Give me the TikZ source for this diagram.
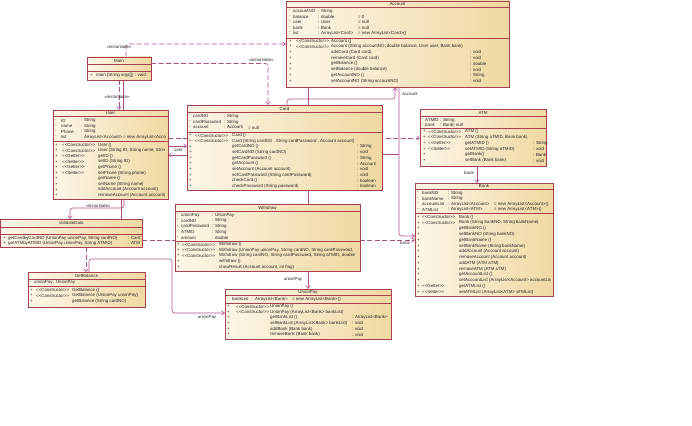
\documentclass[tikz,border=0pt]{standalone}
\usepackage{fontspec}
\setmainfont{Liberation Sans}
\usetikzlibrary{arrows.meta,backgrounds}
\definecolor{bordc}{HTML}{A8404F}
\definecolor{fillA}{HTML}{FDF6E8}
\definecolor{fillB}{HTML}{F0D8A2}
\definecolor{linec}{HTML}{B0508A}
\definecolor{txtc}{HTML}{262626}
\newcommand\umlbox[8]{%
  \node[cls, anchor=north west, minimum width={(#4-#2)*1pt}, minimum height={(#5-#3)*1pt}] (#1) at (#2,#3) {};
  \draw[bord] (#2,#6) -- (#4,#6) (#2,#7) -- (#4,#7);
  \node[ttl] (#1-title) at ({(#2+#4)/2},{(#3+#6)/2}) {#8};
}
\newcommand\stereo[1]{{<}{<}#1{>}{>}}
\newcommand\attr[8]{\node[rt] at (#2,#1) {-}; \node[rt] at (#3,#1) {#4}; \node[rt] at (#5,#1) {#6}; \node[rt] at (#7,#1) {#8};}
\newcommand\meth[8]{\node[rt] at (#2,#1) {+}; \node[rt] at (#3,#1) {#4}; \node[rt] at (#5,#1) {#6}; \node[rt] at (#7,#1) {#8};}
\begin{document}
\begin{tikzpicture}[x=1pt,y=-1pt,
  cls/.style={draw=bordc, line width=0.6pt, left color=fillA, right color=fillB, inner sep=0pt, outer sep=0pt},
  bord/.style={draw=bordc, line width=0.6pt},
  rt/.style={anchor=west, inner sep=0pt, font=\fontsize{4.4}{5}\selectfont, text=txtc},
  ttl/.style={anchor=center, inner sep=0pt, font=\fontsize{4.4}{5}\selectfont, text=txtc},
  lab/.style={inner sep=0.5pt, font=\fontsize{4.4}{5}\selectfont, text=txtc},
  con/.style={draw=linec, line width=0.6pt, rounded corners=2.5pt},
  dep/.style={con, dash pattern=on 5pt off 2.5pt},
  arr/.style={-{Straight Barb[length=3pt,width=4.5pt]}},
]
\useasboundingbox (0,0) rectangle (692,425);

% ---------- Account ----------
\umlbox{account}{286}{1}{509}{87}{7.5}{38}{Account}
\attr{11}{289}{293}{accountNO}{318}{: String}{358}{}
\attr{16.5}{289}{293}{balance}{318}{: double}{358}{= 0}
\attr{22}{289}{293}{user}{318}{: User}{358}{= null}
\attr{27.5}{289}{293}{bank}{318}{: Bank}{358}{= null}
\attr{33}{289}{293}{list}{318}{: ArrayList<Card>}{358}{= new ArrayList<Card>()}
\meth{41}{289}{296}{\stereo{Constructor}}{331}{Account ()}{470}{}
\meth{46.7}{289}{296}{\stereo{Constructor}}{331}{Account (String accountNO, double balance, User user, Bank bank)}{470}{}
\meth{52.4}{289}{296}{}{331}{addCard (Card card)}{470}{: void}
\meth{58.1}{289}{296}{}{331}{removeCard (Card card)}{470}{: void}
\meth{63.8}{289}{296}{}{331}{getBalance ()}{470}{: double}
\meth{69.5}{289}{296}{}{331}{setBalance (double balance)}{470}{: void}
\meth{75.2}{289}{296}{}{331}{getAccountNO ()}{470}{: String}
\meth{80.9}{289}{296}{}{331}{setAccountNO (String accountNO)}{470}{: void}

% ---------- Main ----------
\umlbox{main}{87}{57}{151}{80}{64}{71}{Main}
\meth{75.5}{90}{96}{main (String args[]) : void}{96}{}{96}{}

% ---------- User ----------
\umlbox{user}{53}{110}{168}{199}{116}{141}{User}
\begin{scope}
\clip (53,110) rectangle (168,199);
\attr{120.5}{55}{61}{ID}{81}{: String}{123}{}
\attr{126}{55}{61}{name}{81}{: String}{123}{}
\attr{131.5}{55}{61}{Phone}{81}{: String}{123}{}
\attr{137}{55}{61}{list}{81}{: ArrayList<Account>}{123}{= new ArrayList<Acco}
\meth{145}{55}{62}{\stereo{Constructor}}{98}{User ()}{98}{}
\meth{150.6}{55}{62}{\stereo{Constructor}}{98}{User (String ID, String name, Strin}{98}{}
\meth{156.2}{55}{62}{\stereo{Getter}}{98}{getID ()}{98}{}
\meth{161.8}{55}{62}{\stereo{Setter}}{98}{setID (String ID)}{98}{}
\meth{167.4}{55}{62}{\stereo{Getter}}{98}{getPhone ()}{98}{}
\meth{173}{55}{62}{\stereo{Setter}}{98}{setPhone (String phone)}{98}{}
\meth{178.6}{55}{62}{}{98}{getName ()}{98}{}
\meth{184.2}{55}{62}{}{98}{setName (String name)}{98}{}
\meth{189.8}{55}{62}{}{98}{addAccount (Account account)}{98}{}
\meth{195.4}{55}{62}{}{98}{removeAccount (Account account)}{98}{}
\end{scope}

% ---------- Card ----------
\umlbox{card}{187}{105}{382}{190}{112}{132}{Card}
\attr{116}{189}{193}{cardNO}{224}{: String}{248}{}
\attr{122}{189}{193}{cardPassword}{224}{: String}{248}{}
\attr{127.5}{189}{193}{account}{224}{: Account}{248}{= null}
\meth{135.5}{189}{195}{\stereo{Constructor}}{232}{Card ()}{357}{}
\meth{141.1}{189}{195}{\stereo{Constructor}}{232}{Card (String cardNO , String cardPassword , Account account)}{357}{}
\meth{146.8}{189}{195}{}{232}{getCardNO ()}{357}{: String}
\meth{152.4}{189}{195}{}{232}{setCardNO (String cardNO)}{357}{: void}
\meth{158.1}{189}{195}{}{232}{getCardPassword ()}{357}{: String}
\meth{163.7}{189}{195}{}{232}{getAccount ()}{357}{: Account}
\meth{169.4}{189}{195}{}{232}{setAccount (Account account)}{357}{: void}
\meth{175}{189}{195}{}{232}{setCardPassword (String cardPassword)}{357}{: void}
\meth{180.7}{189}{195}{}{232}{checkCard ()}{357}{: boolean}
\meth{186.3}{189}{195}{}{232}{checkPassword (String password)}{357}{: boolean}

% ---------- ATM ----------
\umlbox{atm}{420}{109}{546}{166}{116}{128}{ATM}
\attr{120}{422}{425}{ATMID}{440}{: String}{452}{}
\attr{124.5}{422}{425}{bank}{440}{: Bank}{452}{= null}
\meth{131.5}{423}{428}{\stereo{Constructor}}{465}{ATM ()}{533}{}
\meth{137.3}{423}{428}{\stereo{Constructor}}{465}{ATM (String aTMID, Bank bank)}{533}{}
\meth{143.1}{423}{428}{\stereo{Getter}}{465}{getATMID ()}{533}{: String}
\meth{148.9}{423}{428}{\stereo{Setter}}{465}{setATMID (String aTMID)}{533}{: void}
\meth{154.7}{423}{428}{}{465}{getBank()}{533}{: Bank}
\meth{160.5}{423}{428}{}{465}{setBank (Bank bank)}{533}{: void}

% ---------- Bank ----------
\umlbox{bank}{415}{183}{553}{296}{189}{213}{Bank}
\begin{scope}
\clip (415,183) rectangle (553,296);
\attr{193}{417}{422}{bankNO}{448}{: String}{494}{}
\attr{198.5}{417}{422}{bankName}{448}{: String}{494}{}
\attr{204}{417}{422}{accountList}{448}{: ArrayList<Account>}{494}{= new ArrayList<Account>()}
\attr{209.5}{417}{422}{ATMList}{448}{: ArrayList<ATM>}{494}{= new ArrayList<ATM>()}
\meth{217}{417}{422}{\stereo{Constructor}}{459}{Bank ()}{459}{}
\meth{222.8}{417}{422}{\stereo{Constructor}}{459}{Bank (String bankNO, String bankName)}{459}{}
\meth{228.5}{417}{422}{}{459}{getBankNO ()}{459}{}
\meth{234.3}{417}{422}{}{459}{setBankNO (String bankNO)}{459}{}
\meth{240.1}{417}{422}{}{459}{getBankName ()}{459}{}
\meth{245.9}{417}{422}{}{459}{setBankName (String bankName)}{459}{}
\meth{251.6}{417}{422}{}{459}{addAccount (Account account)}{459}{}
\meth{257.4}{417}{422}{}{459}{removeAccount (Account account)}{459}{}
\meth{263.2}{417}{422}{}{459}{addATM (ATM aTM)}{459}{}
\meth{268.9}{417}{422}{}{459}{removeATM (ATM aTM)}{459}{}
\meth{274.7}{417}{422}{}{459}{getAccountList ()}{459}{}
\meth{280.5}{417}{422}{}{459}{setAccountList (ArrayList<Account> accountLis}{459}{}
\meth{286.2}{417}{422}{\stereo{Getter}}{459}{getATMList ()}{459}{}
\meth{292}{417}{422}{\stereo{Setter}}{459}{setATMList (ArrayList<ATM> aTMList)}{459}{}
\end{scope}

% ---------- ValidateData ----------
\umlbox{validate}{0.5}{219}{142}{247}{227}{234}{ValidateData}
\meth{238}{3}{8}{}{8}{getCardbyCardNO (UnionPay unionPay, String cardNO)}{128}{: Card}
\meth{243}{3}{8}{}{8}{getATMbyATMID (UnionPay unionPay, String ATMID)}{128}{: ATM}

% ---------- GetBalance ----------
\umlbox{getbal}{28}{272}{145}{307}{279}{286}{GetBalance}
\attr{282.5}{30}{34}{unionPay}{53}{: UnionPay}{53}{}
\meth{290}{30}{36}{\stereo{Constructor}}{72}{GetBalance ()}{72}{}
\meth{295.5}{30}{36}{\stereo{Constructor}}{72}{GetBalance (UnionPay unionPay)}{72}{}
\meth{301}{30}{36}{}{72}{getBalance (String cardNO)}{72}{}

% ---------- Withdraw ----------
\umlbox{withdraw}{175}{204}{360}{271}{211}{241}{Withdraw}
\begin{scope}
\clip (175,204) rectangle (360,271);
\attr{215}{177}{181}{unionPay}{212}{: UnionPay}{212}{}
\attr{220.7}{177}{181}{cardNO}{212}{: String}{212}{}
\attr{226.4}{177}{181}{cardPassword}{212}{: String}{212}{}
\attr{232.1}{177}{181}{ATMID}{212}{: String}{212}{}
\attr{237.8}{177}{181}{amount}{212}{: double}{212}{}
\meth{244.5}{177}{182}{\stereo{Constructor}}{219}{Withdraw ()}{219}{}
\meth{250}{177}{182}{\stereo{Constructor}}{219}{Withdraw (UnionPay unionPay, String cardNO, String cardPassword,}{219}{}
\meth{255.6}{177}{182}{\stereo{Constructor}}{219}{Withdraw (String cardNO, String cardPassword, String aTMID, double}{219}{}
\meth{261.3}{177}{182}{}{219}{withdraw ()}{219}{}
\meth{267}{177}{182}{}{219}{showResult (Account account, int flag)}{219}{}
\end{scope}

% ---------- UnionPay ----------
\umlbox{unionpay}{225}{289}{391}{339}{295}{303}{UnionPay}
\attr{299}{227}{232}{bankList}{252}{: ArrayList<Bank>}{292}{= new ArrayList<Bank>()}
\meth{306.5}{227}{236}{\stereo{Constructor}}{270}{UnionPay ()}{352}{}
\meth{312.1}{227}{236}{\stereo{Constructor}}{270}{UnionPay (ArrayList<Bank> bankList)}{352}{}
\meth{317.7}{227}{236}{}{270}{getBankList ()}{352}{: ArrayList<Bank>}
\meth{323.3}{227}{236}{}{270}{setBankList (ArrayList<Bank> bankList)}{352}{: void}
\meth{328.9}{227}{236}{}{270}{addBank (Bank bank)}{352}{: void}
\meth{334.5}{227}{236}{}{270}{removeBank (Bank bank)}{352}{: void}

% ---------- connectors ----------
\begin{pgfonlayer}{background}
\draw[dep,arr] (126,0 |- main.north) -- (126,44) -- (account.west |- 0,44);
\draw[dep,arr] (main.east |- 0,63.5) -- (268,63.5) -- (268,0 |- card.north);
\draw[dep,arr] (119,0 |- main.south) -- (119,0 |- user.north);
\draw[con] (123,0 |- main.south) -- (123,0 |- user.north);
\draw[dep,arr] (user.east |- 0,138) -- (atm.west |- 0,138);
\draw[con,arr] (user.east |- 0,146) -- (card.west |- 0,146);
\draw[con,arr] (card.west |- 0,155) -- (user.east |- 0,155);
\draw[con,arr] (287,0 |- card.north) -- (287,99) -- (395,99) -- (395,0 |- account.south);
\draw[con,arr] (399,0 |- account.south) -- (399,236) -- (bank.west |- 0,236);
\draw[con] (card.east |- 0,154) -- (399,154);
\draw[con] (308,0 |- account.south) -- (308,0 |- withdraw.north);
\draw[con] (121,0 |- user.south) -- (121,0 |- validate.north);
\draw[con,arr] (124,0 |- user.south) -- (124,208) -- (70,208) -- (70,0 |- validate.north);
\draw[dep,arr] (86,0 |- validate.south) -- (86,0 |- getbal.north);
\draw[con,arr] (89,0 |- getbal.north) -- (89,259) -- (172,259) -- (172,313) -- (unionpay.west |- 0,313);
\draw[dep,arr] (validate.east |- 0,240) -- (bank.west |- 0,240);
\draw[con,arr] (308,0 |- withdraw.south) -- (308,0 |- unionpay.north);
\draw[con,arr] (477,0 |- atm.south) -- (477,0 |- bank.north);
\end{pgfonlayer}

% ---------- connector labels ----------
\node[lab] (lb1) at (119,47) {«instantiate»};
\node[lab] (lb2) at (261,59.5) {«instantiate»};
\node[lab] (lb3) at (117,97) {«instantiate»};
\node[lab] (lb4) at (178.5,150.5) {user};
\node[lab] (lb5) at (410,94) {account};
\node[lab] (lb6) at (405,243) {bank};
\node[lab] (lb7) at (98,206) {«instantiate»};
\node[lab] (lb8) at (207,317) {unionPay};
\node[lab] (lb9) at (293,279) {unionPay};
\node[lab] (lb10) at (469,172.5) {bank};
\end{tikzpicture}
\end{document}
